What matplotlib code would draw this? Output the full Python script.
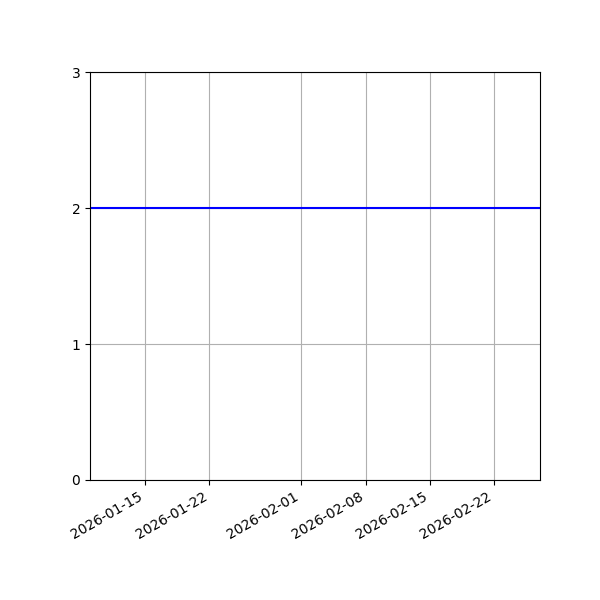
import matplotlib
matplotlib.use("Agg")
import matplotlib.pyplot as plt
import numpy as np

dates = np.array(["2026-01-09", "2026-02-27"], dtype="datetime64[D]")
values = [2, 2]

fig, ax = plt.subplots(figsize=(6, 6), dpi=100)
ax.plot(dates, values, color="blue", linewidth=1.5)
ax.set_xlim(dates[0], dates[-1])
ax.set_ylim(0, 3)
ax.set_yticks([0, 1, 2, 3])
ax.grid(True)
fig.autofmt_xdate()
fig.subplots_adjust(left=0.15)
fig.savefig("out.png", dpi=100)
